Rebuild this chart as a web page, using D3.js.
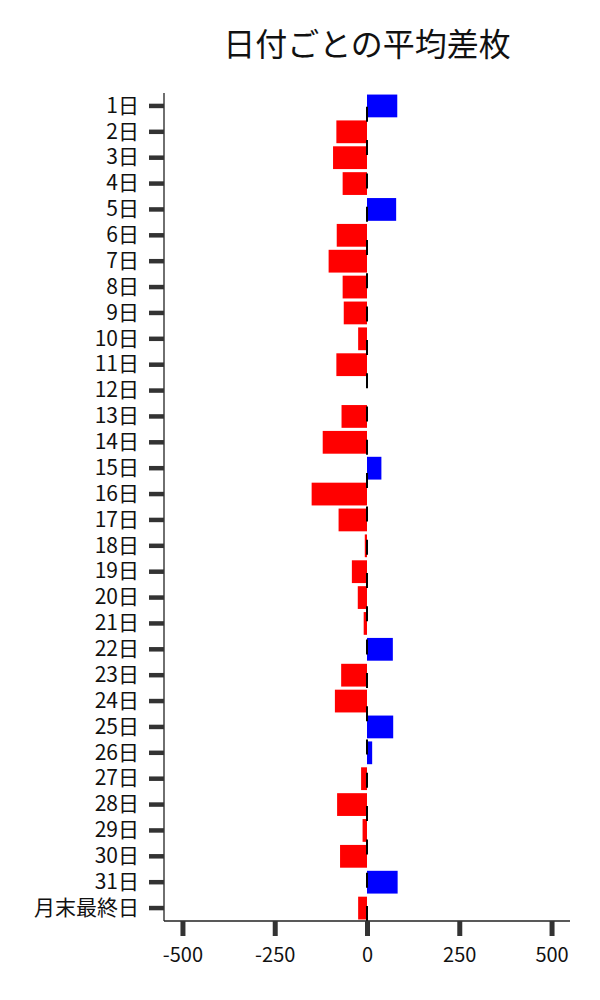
<!DOCTYPE html>
<html>
<head>
<meta charset="utf-8">
<script src="https://cdn.jsdelivr.net/npm/d3@7"></script>
<style>
  body { margin: 0; background: #fff; }
  text { font-family: "Noto Sans CJK JP", "Noto Sans", sans-serif; fill: #111; }
</style>
</head>
<body>
<div id="chart"></div>
<script>
let svgWidth = 600;
let svgHeight = 1000;

// days of month + last day of month
const days = ["1日", "2日", "3日", "4日", "5日", "6日", "7日", "8日", "9日", "10日",
  "11日", "12日", "13日", "14日", "15日", "16日", "17日", "18日", "19日", "20日",
  "21日", "22日", "23日", "24日", "25日", "26日", "27日", "28日", "29日", "30日",
  "31日", "月末最終日"];

// average difference (枚) per day
const avgDiff = [82, -83, -92, -66, 79, -82, -104, -66, -63, -24,
  -83, 0, -69, -120, 39, -150, -77, -6, -41, -25,
  -9, 70, -70, -87, 71, 14, -16, -81, -12, -73,
  83, -24];

const xTicks = [-500, -250, 0, 250, 500];
const titleText = "日付ごとの平均差枚";

var posColor = "#0000ff";
var negColor = "#ff0000";

const margin = { top: 93, right: 30, bottom: 79, left: 164 };

const svg = d3.select("#chart")
  .append("svg")
  .attr("width", svgWidth)
  .attr("height", svgHeight);

const x = d3.scaleLinear()
  .domain([-550, 550])
  .range([margin.left, svgWidth - margin.right]);

const y = d3.scaleBand()
  .domain(days)
  .range([margin.top, svgHeight - margin.bottom])
  .paddingInner(0.12)
  .paddingOuter(0.06);

// bars
svg.append("g")
  .selectAll("rect")
  .data(days.map((d, i) => ({ day: d, value: avgDiff[i] })))
  .enter()
  .append("rect")
  .attr("x", d => x(Math.min(0, d.value)))
  .attr("y", d => y(d.day))
  .attr("width", d => Math.abs(x(d.value) - x(0)))
  .attr("height", y.bandwidth())
  .attr("fill", d => d.value >= 0 ? posColor : negColor);

// dashed zero line (dashes start from the bottom)
svg.append("line")
  .attr("x1", x(0))
  .attr("x2", x(0))
  .attr("y1", svgHeight - margin.bottom)
  .attr("y2", margin.top)
  .attr("stroke", "#000")
  .attr("stroke-width", 2)
  .attr("stroke-dasharray", "15,18.3");

// y axis
const yAxis = svg.append("g")
  .attr("transform", `translate(${margin.left},0)`)
  .call(d3.axisLeft(y).tickSize(15).tickPadding(10));
yAxis.select(".domain")
  .attr("d", `M0,${margin.top}V${svgHeight - margin.bottom}`)
  .attr("stroke", "#222")
  .attr("stroke-width", 1.3);
yAxis.selectAll(".tick line").attr("stroke", "#333").attr("stroke-width", 4.5);
yAxis.selectAll(".tick text")
  .attr("font-size", 21)
  .attr("fill", "#111")
  .style("font-family", '"Noto Sans CJK JP", sans-serif');

// x axis
const xAxis = svg.append("g")
  .attr("transform", `translate(0,${svgHeight - margin.bottom})`)
  .call(d3.axisBottom(x).tickValues(xTicks).tickSize(15).tickPadding(12));
xAxis.select(".domain")
  .attr("d", `M${margin.left},0H${svgWidth - margin.right}`)
  .attr("stroke", "#222")
  .attr("stroke-width", 1.3);
xAxis.selectAll(".tick line").attr("stroke", "#333").attr("stroke-width", 5);
xAxis.selectAll(".tick text")
  .attr("font-size", 20)
  .attr("fill", "#111")
  .style("font-family", '"Noto Sans CJK JP", sans-serif')
  .text(d => d < 0 ? "-" + Math.abs(d) : d);

// title
svg.append("text")
  .attr("x", (margin.left + svgWidth - margin.right) / 2)
  .attr("y", 56)
  .attr("text-anchor", "middle")
  .attr("font-size", 32)
  .text(titleText);
</script>
</body>
</html>
